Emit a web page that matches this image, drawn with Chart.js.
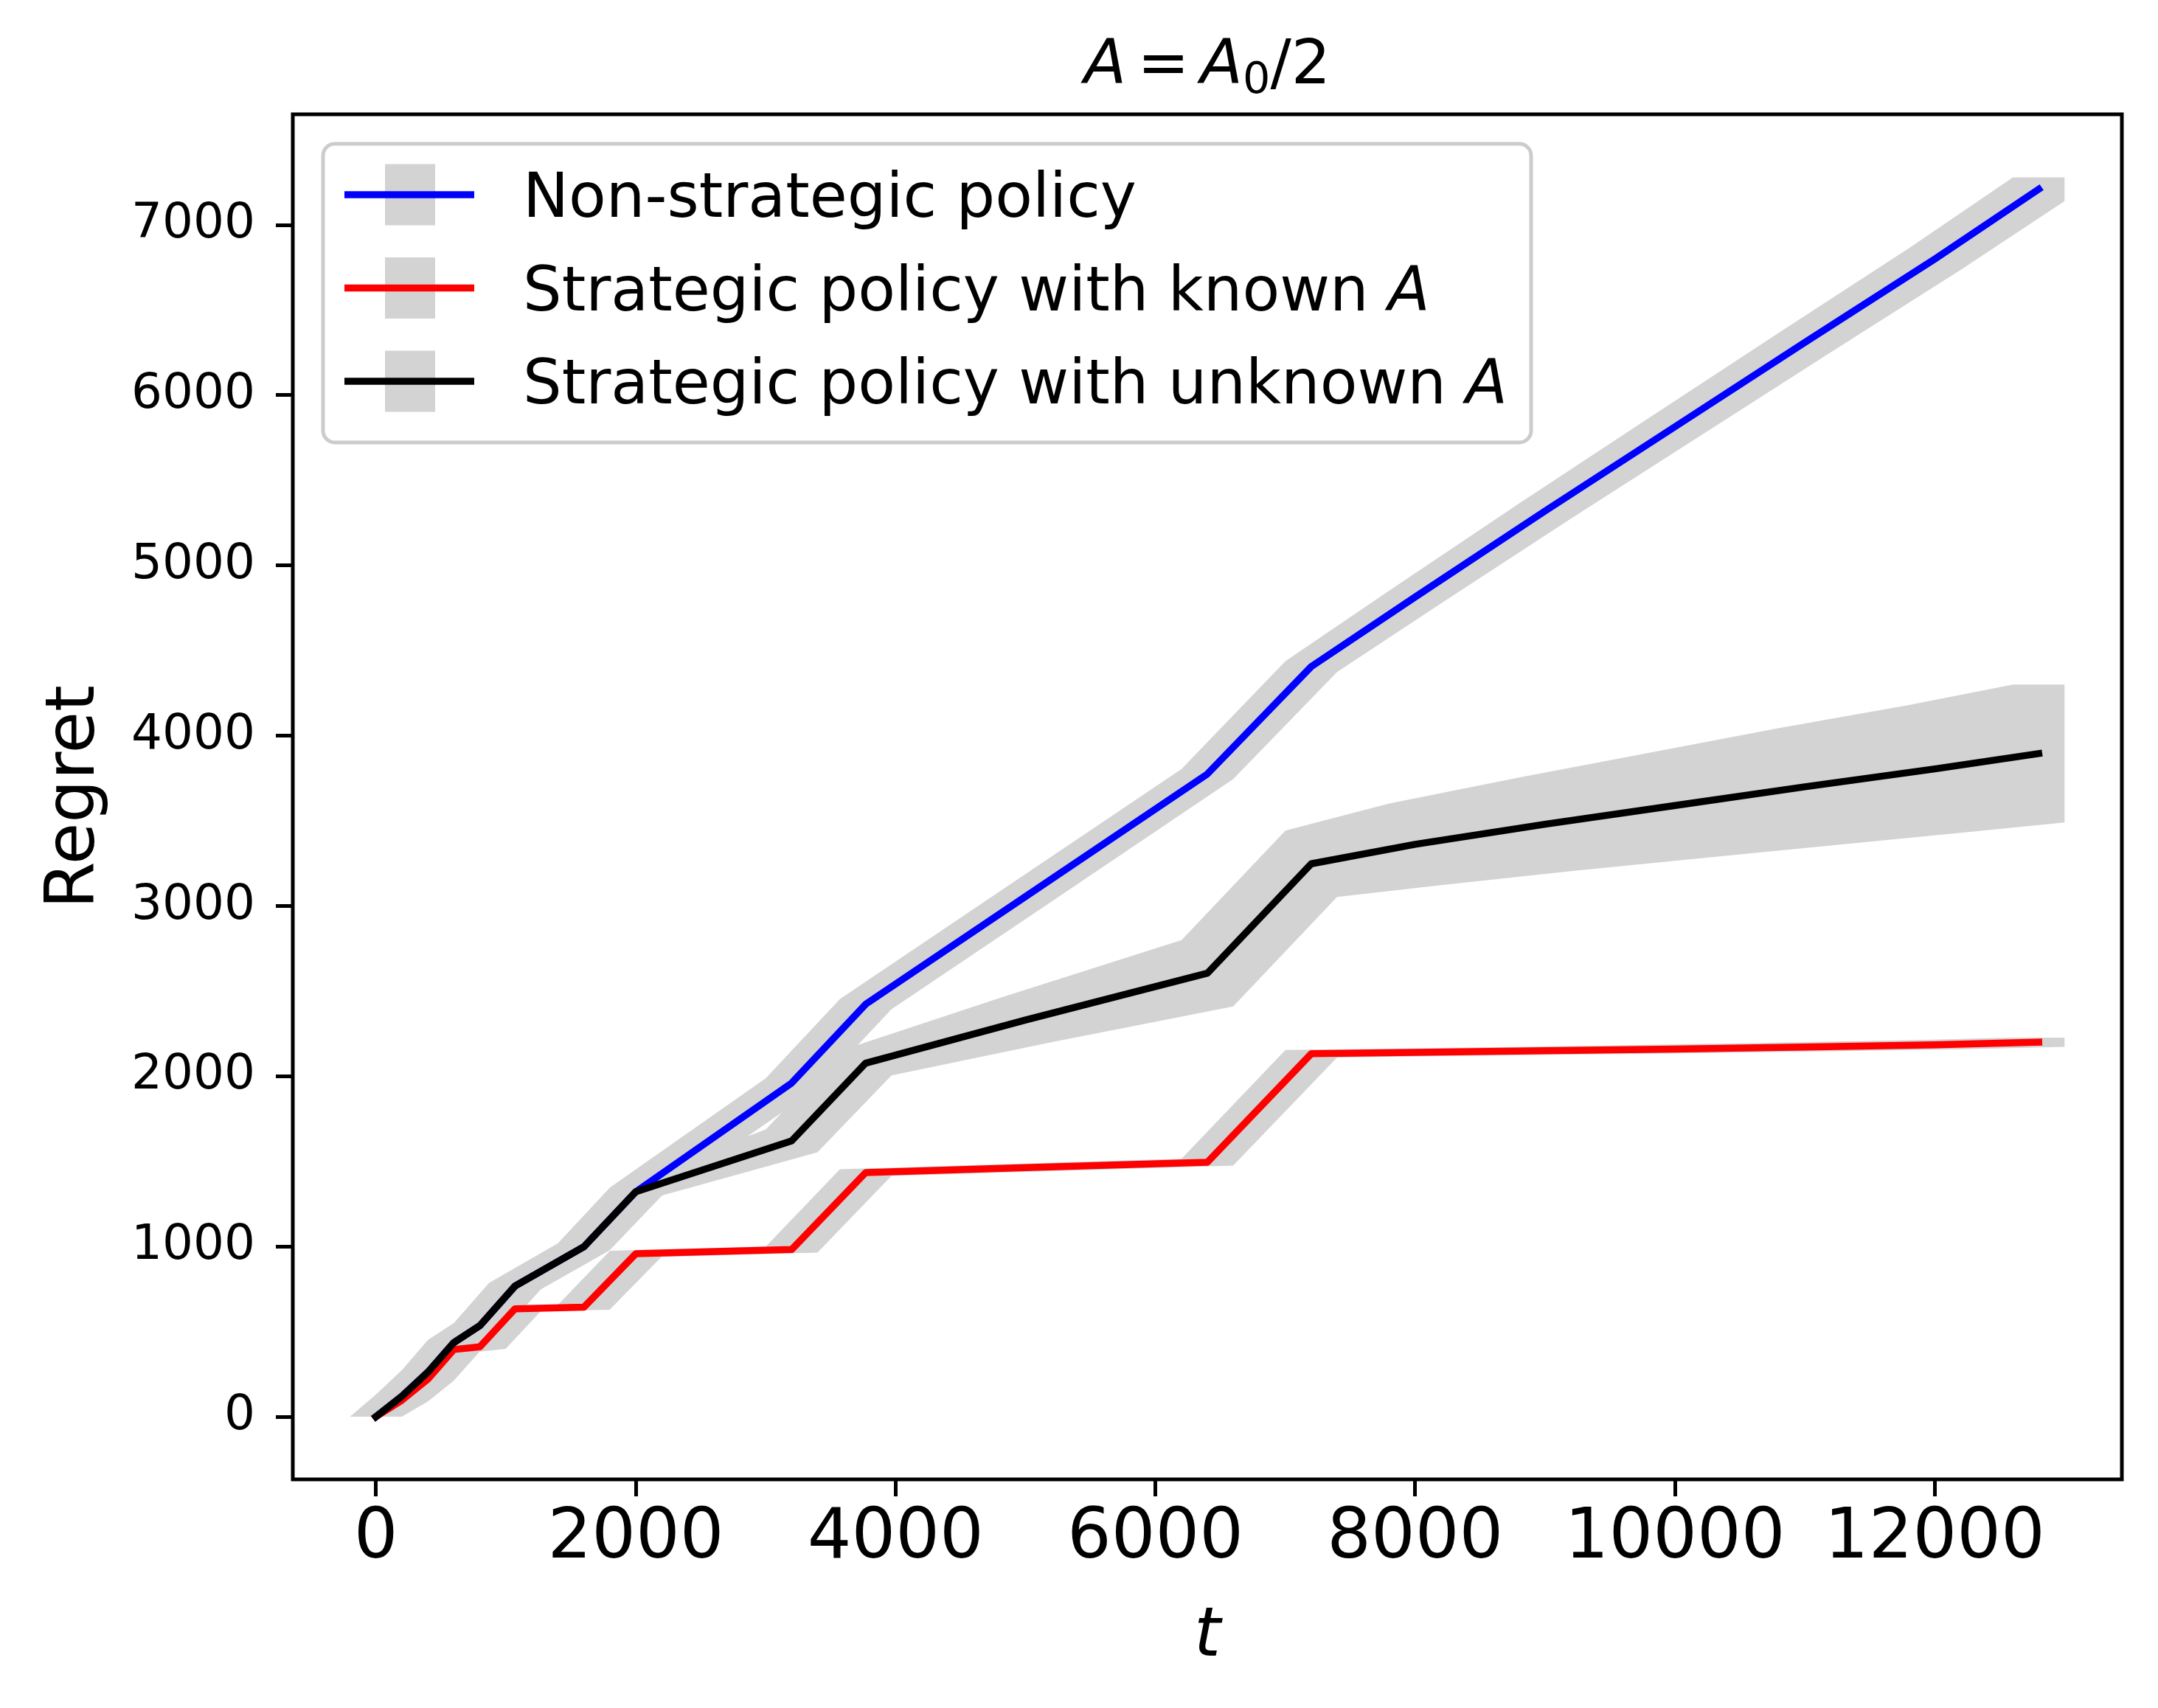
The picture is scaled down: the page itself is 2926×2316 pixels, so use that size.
<!DOCTYPE html>
<html>
<head>
<meta charset="utf-8">
<script src="https://cdn.jsdelivr.net/npm/chart.js@4.4.0/dist/chart.umd.min.js"></script>
<style>
  html, body { margin: 0; padding: 0; background: #fff; }
  canvas { display: block; }
</style>
</head>
<body>
<canvas id="regretChart" width="2926" height="2316"></canvas>
<script>
// time steps shared by the three runs
const tSteps = [0, 200, 400, 600, 800, 1070, 1600, 2000, 3200, 3770, 5000, 6400, 7200, 8000, 9000, 10000, 11000, 12000, 12800];

// mean regret of each policy
const nonStrategic     = [0, 120, 262, 436, 535, 767, 998, 1321, 1960, 2423, 3055, 3775, 4406, 4815, 5320, 5815, 6310, 6800, 7210];
const strategicKnown   = [0, 97, 221, 395, 411, 634, 643, 957, 982, 1434, 1463, 1495, 2132, 2140, 2150, 2160, 2172, 2185, 2200];
const strategicUnknown = [0, 120, 262, 436, 535, 767, 998, 1321, 1620, 2077, 2330, 2605, 3248, 3362, 3480, 3590, 3700, 3805, 3895];

// half height of the grey error bars
const nonStrategicErr     = [0, 10, 12, 15, 15, 18, 20, 25, 28, 30, 30, 30, 32, 38, 45, 52, 58, 64, 70];
const strategicKnownErr   = [0, 8, 10, 12, 12, 14, 15, 18, 18, 20, 20, 20, 22, 22, 23, 24, 25, 26, 27];
const strategicUnknownErr = [0, 10, 12, 15, 15, 18, 20, 22, 67, 72, 130, 195, 195, 240, 275, 310, 345, 375, 405];

const seriesNames = ['Non-strategic policy', 'Strategic policy with known $A$', 'Strategic policy with unknown $A$'];
const xTicks = [0, 2000, 4000, 6000, 8000, 10000, 12000];
const yTicks = [0, 1000, 2000, 3000, 4000, 5000, 6000, 7000];

const FONT = 'DejaVu Sans';
const BAND = '#d3d3d3';
const BAND_HALF = 35;   // half width of the thick error bar, px

Chart.defaults.font.family = FONT;
Chart.defaults.color = '#000';

// split "text $A$" into plain / italic runs
function runs(str) {
  return str.split('$').map((t, i) => ({ t, it: i % 2 === 1 })).filter(r => r.t);
}

function drawRuns(ctx, list, x, y, size) {
  list.forEach(r => {
    const s = r.sub ? size * 0.7 : size;
    ctx.font = (r.it ? 'italic ' : '') + s + 'px ' + FONT;
    ctx.fillText(r.t, x + (r.gap || 0), y + (r.sub ? size * 0.16 : 0));
    x += ctx.measureText(r.t).width + 2 * (r.gap || 0);
  });
  return x;
}

function runsWidth(ctx, list, size) {
  let w = 0;
  list.forEach(r => {
    const s = r.sub ? size * 0.7 : size;
    ctx.font = (r.it ? 'italic ' : '') + s + 'px ' + FONT;
    w += ctx.measureText(r.t).width + 2 * (r.gap || 0);
  });
  return w;
}

// union of the dense vertical error bars: upper edge shifted left, lower edge shifted right
function band(ctx, xs, mid, err, sx, sy) {
  const n = xs.length - 1;
  ctx.beginPath();
  xs.forEach((t, i) => {
    const px = sx.getPixelForValue(t) - BAND_HALF, py = sy.getPixelForValue(mid[i] + err[i]);
    i ? ctx.lineTo(px, py) : ctx.moveTo(px, py);
  });
  ctx.lineTo(sx.getPixelForValue(xs[n]) + BAND_HALF, sy.getPixelForValue(mid[n] + err[n]));
  for (let i = n; i >= 0; i--) {
    ctx.lineTo(sx.getPixelForValue(xs[i]) + BAND_HALF, sy.getPixelForValue(mid[i] - err[i]));
  }
  ctx.lineTo(sx.getPixelForValue(xs[0]) - BAND_HALF, sy.getPixelForValue(mid[0] - err[0]));
  ctx.closePath();
  ctx.fill();
}

const errs = [nonStrategicErr, strategicKnownErr, strategicUnknownErr];
const means = [nonStrategic, strategicKnown, strategicUnknown];
const colors = ['#0000ff', '#ff0000', '#000000'];

const decor = {
  id: 'decor',
  beforeDatasetsDraw(chart) {
    const { ctx, chartArea: a, scales: { x, y } } = chart;
    ctx.save();
    ctx.beginPath();
    ctx.rect(a.left, a.top, a.right - a.left, a.bottom - a.top);
    ctx.clip();
    ctx.fillStyle = BAND;
    means.forEach((m, i) => band(ctx, tSteps, m, errs[i], x, y));
    ctx.restore();
  },
  afterDatasetsDraw(chart) {
    const { ctx, chartArea: a } = chart;
    ctx.save();
    ctx.strokeStyle = '#000';
    ctx.lineWidth = 5;
    ctx.strokeRect(a.left, a.top, a.right - a.left, a.bottom - a.top);
    ctx.restore();
  },
  afterDraw(chart) {
    const { ctx, chartArea: a } = chart;
    const cx = (a.left + a.right) / 2;
    ctx.save();
    ctx.fillStyle = '#000';
    ctx.textBaseline = 'alphabetic';

    // title
    const title = [{ t: 'A', it: true }, { t: '=', gap: 15 }, { t: 'A', it: true }, { t: '0', sub: true }, { t: '/2' }];
    drawRuns(ctx, title, cx - runsWidth(ctx, title, 84) / 2, a.top - 42, 84);

    // axis titles
    ctx.font = 'italic 92px ' + FONT;
    ctx.textAlign = 'center';
    ctx.fillText('t', cx, 2245);
    ctx.save();
    ctx.translate(127, (a.top + a.bottom) / 2);
    ctx.rotate(-Math.PI / 2);
    ctx.font = '92px ' + FONT;
    ctx.fillText('Regret', 0, 0);
    ctx.restore();
    ctx.textAlign = 'left';

    // legend
    const lx = a.left + 41, ly = a.top + 40, lw = 1638, lh = 405, r = 16;
    ctx.beginPath();
    ctx.roundRect(lx, ly, lw, lh, r);
    ctx.fillStyle = 'rgba(255,255,255,0.8)';
    ctx.fill();
    ctx.strokeStyle = '#cccccc';
    ctx.lineWidth = 5;
    ctx.stroke();
    seriesNames.forEach((name, i) => {
      const cy = ly + 69 + i * 126.5;
      ctx.fillStyle = BAND;
      ctx.fillRect(lx + 84, cy - 41.5, 68, 83);
      ctx.strokeStyle = colors[i];
      ctx.lineWidth = 9.5;
      ctx.beginPath();
      ctx.moveTo(lx + 29, cy);
      ctx.lineTo(lx + 205, cy);
      ctx.stroke();
      ctx.fillStyle = '#000';
      drawRuns(ctx, runs(name), lx + 271, cy + 30, 83);
    });
    ctx.restore();
  }
};

const line = (label, data, color, order) => ({
  label,
  data: tSteps.map((t, i) => ({ x: t, y: data[i] })),
  borderColor: color,
  backgroundColor: color,
  borderWidth: 9.5,
  borderCapStyle: 'square',
  borderJoinStyle: 'round',
  pointRadius: 0,
  fill: false,
  tension: 0,
  order
});

new Chart(document.getElementById('regretChart'), {
  type: 'line',
  data: {
    datasets: [
      line(seriesNames[0], nonStrategic, colors[0], 3),
      line(seriesNames[1], strategicKnown, colors[1], 2),
      line(seriesNames[2], strategicUnknown, colors[2], 1)
    ]
  },
  options: {
    responsive: false,
    devicePixelRatio: 1,
    animation: false,
    events: [],
    layout: { padding: { top: 155, right: 49, left: 0, bottom: 0 } },
    plugins: { legend: { display: false }, title: { display: false }, tooltip: { enabled: false } },
    scales: {
      x: {
        type: 'linear',
        min: -640,
        max: 13440,
        afterFit: s => { s.height = 310; },
        afterBuildTicks: s => { s.ticks = xTicks.map(v => ({ value: v })); },
        border: { display: false },
        grid: { drawOnChartArea: false, drawTicks: true, tickLength: 23, lineWidth: 5, color: '#000' },
        ticks: { font: { size: 94, lineHeight: 1 }, padding: 12, maxRotation: 0, autoSkip: false, callback: v => String(v) }
      },
      y: {
        type: 'linear',
        min: -368,
        max: 7650,
        afterFit: s => { s.width = 397; },
        afterBuildTicks: s => { s.ticks = yTicks.map(v => ({ value: v })); },
        border: { display: false },
        grid: { drawOnChartArea: false, drawTicks: true, tickLength: 23, lineWidth: 5, color: '#000' },
        ticks: { font: { size: 66 }, padding: 28, autoSkip: false, callback: v => String(v) }
      }
    }
  },
  plugins: [decor]
});
</script>
</body>
</html>
